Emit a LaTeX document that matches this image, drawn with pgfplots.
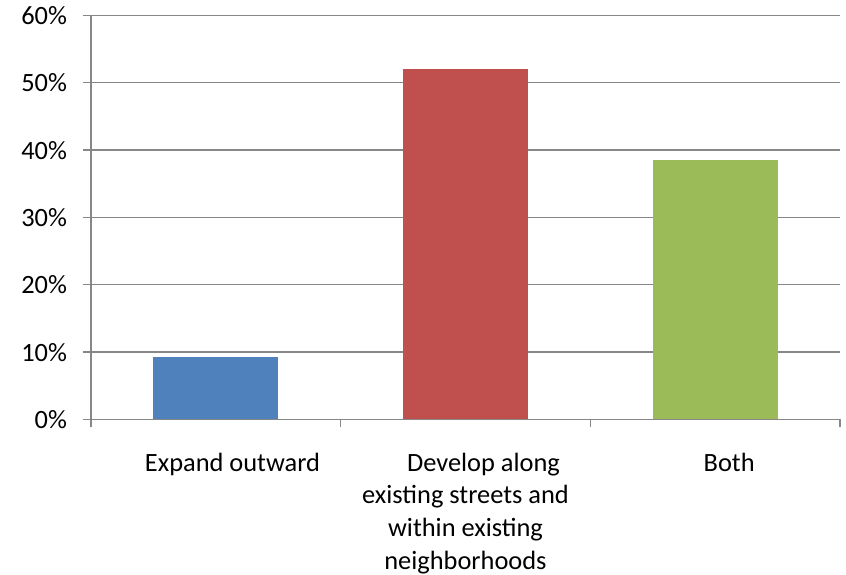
\documentclass[border=0pt]{standalone}
\usepackage{pgfplots}
\pgfplotsset{compat=1.18}
\usepackage{fontspec}
\setmainfont{Carlito}
\definecolor{cblue}{HTML}{4F81BD}
\definecolor{cred}{HTML}{C0504D}
\definecolor{cgreen}{HTML}{9BBB59}
\definecolor{cgrid}{HTML}{878787}
\begin{document}
\begin{tikzpicture}[x=1pt,y=1pt]
\begin{axis}[
  name=ax,
  scale only axis,
  width=561.75pt, height=303pt,
  xmin=-0.5, xmax=2.5,
  ymin=0, ymax=60,
  axis x line*=bottom, axis y line*=left,
  axis line style={draw=cgrid, line width=1pt, -},
  ytick={0,10,20,30,40,50,60},
  yticklabels={0\%,10\%,20\%,30\%,40\%,50\%,60\%},
  ymajorgrids,
  grid style={draw=cgrid, line width=1pt},
  xtick={0,1,2},
  xticklabels={{\hspace*{25pt}Expand outward},{\hspace*{27pt}Develop along\\existing streets and\\within existing\\neighborhoods},{\hspace*{21pt}Both}},
  minor xtick={-0.5,0.5,1.5,2.5},
  x tick style={draw=none},
  minor x tick style={draw=cgrid, line width=1pt},
  y tick style={draw=cgrid, line width=1pt},
  tick align=outside,
  major tick length=6pt,
  minor tick length=6pt,
  xticklabel style={align=center, yshift=-15.5pt, font=\fontsize{19.8}{24.6}\selectfont, text depth=0pt},
  yticklabel style={font=\fontsize{19.8}{22}\selectfont, xshift=-8.5pt},
  ybar, bar width=0.5, bar shift=0pt,
  clip=false,
]
\addplot[fill=cblue, draw=none] coordinates {(0,9.3)};
\addplot[fill=cred, draw=none] coordinates {(1,52.1)};
\addplot[fill=cgreen, draw=none] coordinates {(2,38.5)};
\end{axis}
\pgfresetboundingbox
\useasboundingbox ([xshift=-68.25pt, yshift=-116.6pt] ax.south west) rectangle ([xshift=4.5pt, yshift=11.6pt] ax.north east);
\end{tikzpicture}
\end{document}
